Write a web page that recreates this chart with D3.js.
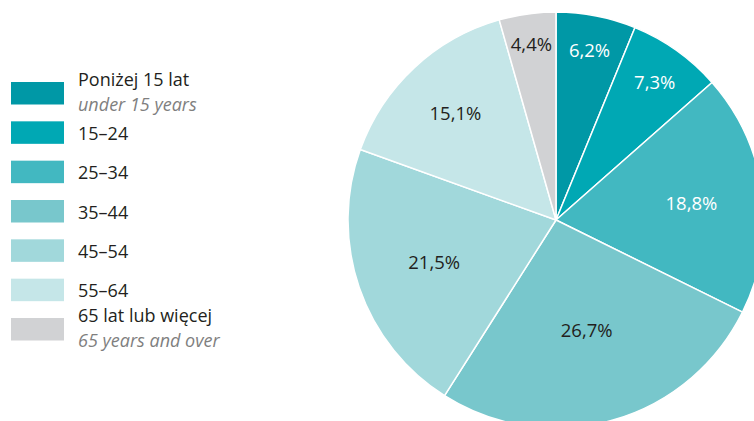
<!DOCTYPE html>
<html><head><meta charset="utf-8">
<script src="https://cdn.jsdelivr.net/npm/d3@7"></script>
<style>html,body{margin:0;padding:0;background:#fff;overflow:hidden}</style>
</head><body>
<svg id="c" width="754" height="421"></svg>
<script>
const categories = ["Poniżej 15 lat", "15–24", "25–34", "35–44", "45–54", "55–64", "65 lat lub więcej"];
const subtitles = ["under 15 years", "", "", "", "", "", "65 years and over"];
const values = [6.2, 7.3, 18.8, 26.7, 21.5, 15.1, 4.4];
const colors = ["#0098a6", "#00a8b4", "#42b8c1", "#78c7cc", "#a1d8db", "#c5e6e8", "#d1d2d4"];
const labelColors = ["#ffffff", "#ffffff", "#ffffff", "#231f20", "#231f20", "#231f20", "#231f20"];

const svg = d3.select("#c");
const font = "'Open Sans', 'Noto Sans', sans-serif";
const cx = 556, cy = 220, R = 208;

const pie = d3.pie().sort(null).value(d => d)(values);
const arc = d3.arc().innerRadius(0).outerRadius(R);
const g = svg.append("g").attr("transform", `translate(${cx},${cy})`);
g.selectAll("path").data(pie).join("path")
  .attr("d", arc).attr("fill", (d, i) => colors[i])
  .attr("stroke", "#fff").attr("stroke-width", 1.5).attr("stroke-linejoin", "round");

const fmt = v => d3.format(".1f")(v).replace(".", ",") + "%";
g.selectAll("text").data(pie).join("text")
  .attr("transform", d => {
    const r = R * (0.92 - 0.014 * d.data);
    const a = (d.startAngle + d.endAngle) / 2;
    return `translate(${r * Math.sin(a)},${-r * Math.cos(a)})`;
  })
  .attr("text-anchor", "middle").attr("dominant-baseline", "central")
  .attr("font-family", font).attr("font-size", 18.5)
  .attr("fill", (d, i) => labelColors[i])
  .text(d => fmt(d.data));

// legend
const y = d3.scaleLinear().domain([0, 6]).range([82, 318]);
const lg = svg.append("g");
const fs = 18;
categories.forEach((c, i) => {
  const top = y(i);
  lg.append("rect").attr("x", 11).attr("y", top).attr("width", 53).attr("height", 22.5).attr("fill", colors[i]);
  if (subtitles[i]) {
    lg.append("text").attr("x", 78).attr("y", top + 4).attr("font-family", font).attr("font-size", fs)
      .attr("fill", "#231f20").text(c);
    lg.append("text").attr("x", 78).attr("y", top + 28.5).attr("font-family", font).attr("font-size", fs)
      .attr("font-style", "italic").attr("fill", "#7f7f7f").text(subtitles[i]);
  } else {
    lg.append("text").attr("x", 78).attr("y", top + 18.5).attr("font-family", font).attr("font-size", fs)
      .attr("fill", "#231f20").text(c);
  }
});
</script>
</body></html>
